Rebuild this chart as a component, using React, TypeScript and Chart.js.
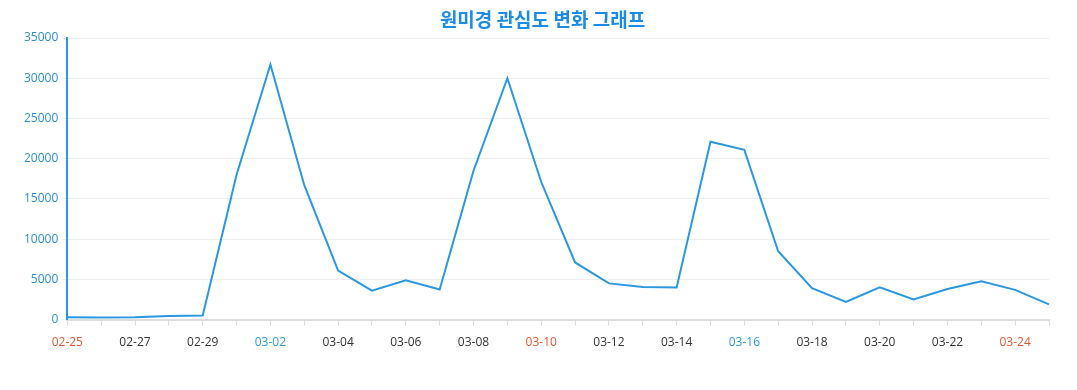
import React, { useEffect, useRef } from "react";
import { Chart, registerables } from "chart.js";

Chart.register(...registerables);

const chartTitle = "원미경 관심도 변화 그래프";

const dates = [
  "02-25", "02-26", "02-27", "02-28", "02-29",
  "03-01", "03-02", "03-03", "03-04", "03-05", "03-06", "03-07", "03-08", "03-09", "03-10",
  "03-11", "03-12", "03-13", "03-14", "03-15", "03-16", "03-17", "03-18", "03-19", "03-20",
  "03-21", "03-22", "03-23", "03-24", "03-25",
];

const interest = [
  300, 250, 300, 450, 500,
  18000, 31700, 16700, 6100, 3600, 4900, 3750, 18500, 30000, 17100,
  7100, 4500, 4050, 4000, 22100, 21100, 8500, 3900, 2200, 4000,
  2500, 3800, 4750, 3700, 1900,
];

// weekday of each date (0 = Sunday, 6 = Saturday), 2024
const weekdays = [
  0, 1, 2, 3, 4,
  5, 6, 0, 1, 2, 3, 4, 5, 6, 0,
  1, 2, 3, 4, 5, 6, 0, 1, 2, 3,
  4, 5, 6, 0, 1,
];

const yTicks = [0, 5000, 10000, 15000, 20000, 25000, 30000, 35000];

const titlePlugin = {
  id: "centeredTitle",
  afterDraw(chart: any) {
    const ctx = chart.ctx;
    ctx.save();
    ctx.font = "bold 19px 'Noto Sans CJK KR'";
    ctx.fillStyle = "#1a8ce6";
    ctx.textAlign = "center";
    ctx.textBaseline = "middle";
    ctx.fillText(chartTitle, chart.width / 2 + 4, 20);
    ctx.restore();
  },
};

export default function App() {
  const ref = useRef<HTMLCanvasElement | null>(null);

  useEffect(() => {
    document.body.style.margin = "0";
    const canvas = ref.current;
    if (!canvas) return;
    const chart = new Chart(canvas, {
      type: "line",
      data: {
        labels: dates,
        datasets: [
          {
            label: "관심도",
            data: interest,
            borderColor: "#2a98e0",
            backgroundColor: "#2a98e0",
            borderWidth: 2,
            pointRadius: 0,
            tension: 0,
            fill: false,
          },
        ],
      },
      plugins: [titlePlugin],
      options: {
        animation: false,
        responsive: false,
        layout: { padding: { left: 20, right: 28, top: 38, bottom: 30 } },
        plugins: {
          legend: { display: false },
          tooltip: { enabled: false },
          title: { display: false },
        },
        scales: {
          x: {
            offset: false,
            border: { display: true, color: "#dddddd", width: 2 },
            grid: {
              display: true,
              drawOnChartArea: false,
              drawTicks: true,
              tickLength: 6,
              color: "#dddddd",
            },
            ticks: {
              autoSkip: false,
              maxRotation: 0,
              padding: 10,
              font: { family: "'Open Sans'", size: 12 },
              color: (ctx: any) => {
                const w = weekdays[ctx.index];
                if (w === 0) return "#e0552f";
                if (w === 6) return "#2b9be0";
                return "#333333";
              },
              callback: (_v: any, i: number) => (i % 2 === 0 ? dates[i] : ""),
            },
          },
          y: {
            min: 0,
            max: 35000,
            afterBuildTicks: (axis: any) => {
              axis.ticks = yTicks.map((v) => ({ value: v }));
            },
            border: { display: true, color: "#2a98e0", width: 2 },
            grid: {
              color: "#eeeeee",
              tickLength: 5,
              drawTicks: true,
            },
            ticks: {
              padding: 4,
              font: { family: "'Open Sans'", size: 12 },
              color: "#2b8fd6",
              callback: (v: any) => String(v),
            },
          },
        },
      },
    });
    return () => chart.destroy();
  }, []);

  return <canvas ref={ref} width={1077} height={390} style={{ display: "block" }} />;
}
